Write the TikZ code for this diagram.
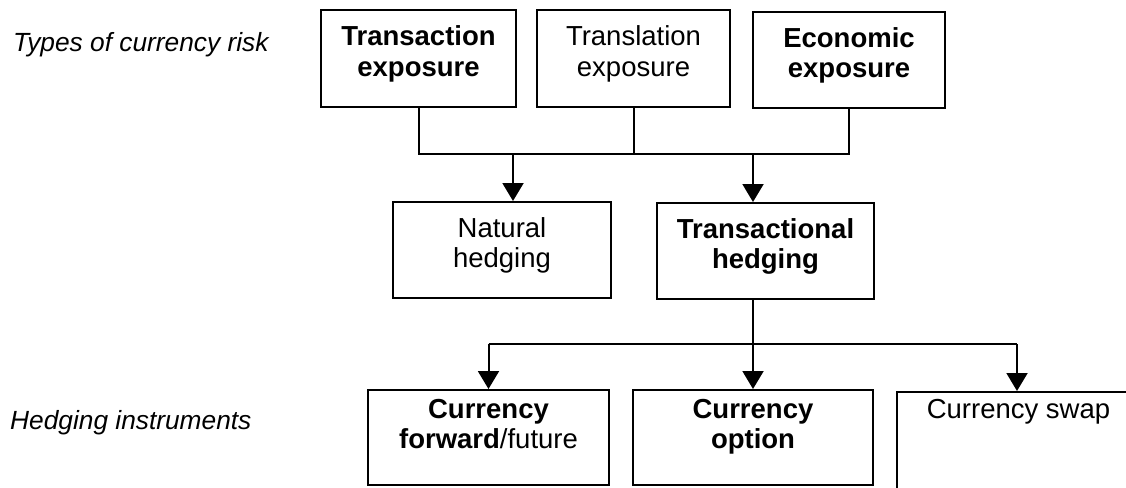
\documentclass[tikz,border=0pt]{standalone}
\usepackage{fontspec}
\setmainfont{Liberation Sans}
\usetikzlibrary{arrows.meta}
\begin{document}
\begin{tikzpicture}[x=1pt,y=-1pt,
  box/.style={draw,line width=2pt,inner sep=0pt},
  txt/.style={font=\fontsize{27.5}{30}\selectfont,align=center,inner sep=0pt},
  side/.style={font=\fontsize{26.3}{30}\selectfont\itshape,inner sep=0pt,anchor=base west},
  wire/.style={line width=2pt},
  arr/.style={line width=2pt,-{Triangle[width=21pt,length=18pt]}}]
\clip (0,0) rectangle (1126,487);

% row labels
\node[side] (risk) at (13,52) {Types of currency risk};
\node[side] (inst) at (10,429) {Hedging instruments};

% types of risk
\node[box,minimum width=195pt,minimum height=97pt,
  label={[txt,yshift=3.5pt]center:{\strut\textbf{Transaction}\\\strut\textbf{exposure}}}]
  (tx) at (418.5,58.5) {};
\node[box,minimum width=193pt,minimum height=97pt,
  label={[txt,yshift=3.5pt]center:{\strut Translation\\\strut exposure}}]
  (tl) at (633.5,58.5) {};
\node[box,minimum width=192pt,minimum height=96pt,
  label={[txt,yshift=3.5pt]center:{\strut\textbf{Economic}\\\strut\textbf{exposure}}}]
  (ec) at (849,60) {};

% hedging approaches
\node[box,minimum width=218pt,minimum height=96pt,
  label={[txt,yshift=4pt]center:{\strut Natural\\\strut hedging}}]
  (nat) at (502,250) {};
\node[box,minimum width=217pt,minimum height=96pt,
  label={[txt,yshift=4pt]center:{\strut\textbf{Transactional}\\\strut\textbf{hedging}}}]
  (trh) at (765.5,251) {};

% instruments
\node[box,minimum width=241pt,minimum height=95pt,
  label={[txt,yshift=10.5pt]center:{\strut\textbf{Currency}\\\strut\textbf{forward}/future}}]
  (fwd) at (488.5,437.5) {};
\node[box,minimum width=240pt,minimum height=95pt,
  label={[txt,yshift=10.5pt]center:{\strut\textbf{Currency}\\\strut\textbf{option}}}]
  (opt) at (753,437.5) {};
\node[box,minimum width=243pt,minimum height=97pt,
  label={[txt,yshift=28.5pt]center:{\strut Currency swap}}]
  (swp) at (1018.5,440.5) {};

% bus from the risk types
\coordinate (busL) at (tx.south |- 0,154);
\coordinate (busR) at (ec.south |- 0,154);
\coordinate (j1) at (513,154);
\coordinate (j2) at (753,154);
\draw[wire] (tx.south) -- (busL) -- (busR) -- (ec.south);
\draw[wire] (tl.south) -- (tl.south |- busL);
\draw[arr] (j1) -- (j1 |- nat.north);
\draw[arr] (j2) -- (j2 |- trh.north);

% bus to the instruments
\coordinate (k) at (753,344);
\coordinate (kL) at (fwd.north |- k);
\coordinate (kR) at (1017,344);
\draw[wire] (k |- trh.south) -- (k);
\draw[wire] (kL) -- (kR);
\draw[arr] (kL) -- (fwd.north);
\draw[arr] (k) -- (opt.north);
\draw[arr] (kR) -- (kR |- swp.north);
\end{tikzpicture}
\end{document}
